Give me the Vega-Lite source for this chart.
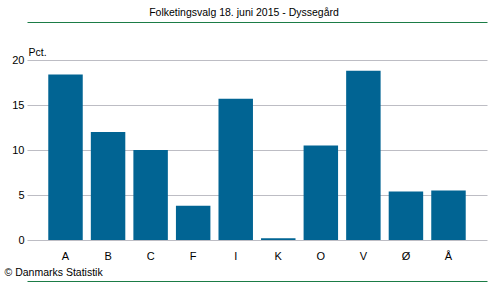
{
  "$schema": "https://vega.github.io/schema/vega-lite/v6.json",
  "width": 460,
  "height": 180,
  "autosize": {"type": "none"},
  "padding": {"left": 27, "top": 60, "right": 13, "bottom": 42},
  "background": "white",
  "title": {
    "text": "Folketingsvalg 18. juni 2015 - Dyssegård",
    "font": "Liberation Sans",
    "fontSize": 10.5,
    "fontWeight": "normal",
    "color": "#000000",
    "anchor": "middle",
    "frame": "group",
    "dx": -13,
    "offset": 4
  },
  "config": {
    "view": {"stroke": null},
    "axis": {"labelFont": "Liberation Sans", "titleFont": "Liberation Sans", "labelColor": "#000000", "titleColor": "#000000"}
  },
  "data": {
    "values": [
      {"parti": "A", "pct": 18.4},
      {"parti": "B", "pct": 12.0},
      {"parti": "C", "pct": 10.0},
      {"parti": "F", "pct": 3.8},
      {"parti": "I", "pct": 15.7},
      {"parti": "K", "pct": 0.2},
      {"parti": "O", "pct": 10.5},
      {"parti": "V", "pct": 18.8},
      {"parti": "Ø", "pct": 5.4},
      {"parti": "Å", "pct": 5.5}
    ]
  },
  "resolve": {"axis": {"x": "independent"}},
  "layer": [
    {
      "mark": {"type": "bar", "color": "#016493"},
      "encoding": {
        "x": {
          "field": "parti",
          "type": "nominal",
          "sort": null,
          "scale": {"paddingInner": 0.19, "paddingOuter": 0.5},
          "axis": {
            "orient": "bottom",
            "offset": 41,
            "domain": true,
            "domainColor": "#1b7c46",
            "domainWidth": 1,
            "ticks": false,
            "tickSize": 0,
            "labelAngle": 0,
            "labelFontSize": 11,
            "labelBaseline": "alphabetic",
            "labelPadding": -22,
            "title": "© Danmarks Statistik",
            "titleFontSize": 10.5,
            "titleFontWeight": "normal",
            "titleAnchor": "start",
            "titleAlign": "left",
            "titleBaseline": "alphabetic",
            "titleX": -23,
            "titleY": -6
          }
        },
        "y": {
          "field": "pct",
          "type": "quantitative",
          "scale": {"domain": [0, 20], "nice": false},
          "axis": {
            "values": [0, 5, 10, 15, 20],
            "grid": true,
            "gridColor": "#bdbdc4",
            "gridWidth": 1,
            "domain": false,
            "ticks": false,
            "tickSize": 0,
            "labelPadding": 3,
            "labelFontSize": 11,
            "title": "Pct.",
            "titleAngle": 0,
            "titleFontSize": 10.5,
            "titleFontWeight": "normal",
            "titleAnchor": "start",
            "titleAlign": "left",
            "titleBaseline": "alphabetic",
            "titleX": 1,
            "titleY": -5
          }
        }
      }
    },
    {
      "mark": {"type": "bar", "opacity": 0},
      "encoding": {
        "x": {
          "field": "parti",
          "type": "nominal",
          "sort": null,
          "axis": {
            "orient": "top",
            "offset": 38,
            "domain": true,
            "domainColor": "#1b7c46",
            "domainWidth": 1,
            "ticks": false,
            "labels": false,
            "title": null
          }
        },
        "y": {"field": "pct", "type": "quantitative"}
      }
    }
  ]
}
